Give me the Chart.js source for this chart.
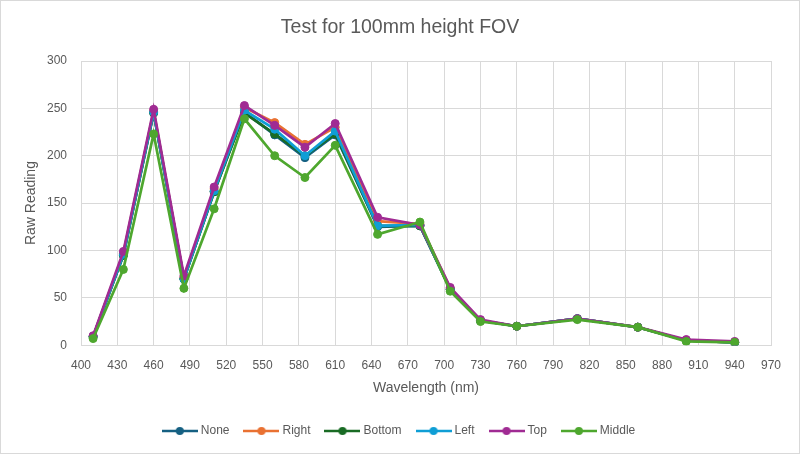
<!DOCTYPE html>
<html>
<head>
<meta charset="utf-8">
<script src="https://cdn.jsdelivr.net/npm/chart.js@4/dist/chart.umd.min.js"></script>
<style>
html,body{margin:0;padding:0;background:#fff;}
canvas{display:block;}
</style>
</head>
<body>
<canvas id="c" width="800" height="454"></canvas>
<script>
const wavelengths = [410, 435, 460, 485, 510, 535, 560, 585, 610, 645, 680, 705, 730, 760, 810, 860, 900, 940];
const seriesNames = ["None", "Right", "Bottom", "Left", "Top", "Middle"];
const noneVals   = [9, 95, 246, 70, 162, 246, 222, 198, 222, 125, 126, 59, 26, 20, 28, 19, 5, 3];
const rightVals  = [9, 97, 247, 71, 165, 251, 235, 212, 230, 131, 128, 60, 26, 20, 28, 19, 5, 3];
const bottomVals = [9, 95, 245, 70, 162, 245, 223, 200, 223, 126, 126, 59, 26, 20, 28, 19, 5, 3];
const leftVals   = [9, 96, 246, 70, 163, 248, 228, 200, 226, 126, 127, 59, 26, 20, 28, 19, 5, 3];
const topVals    = [10, 99, 249, 73, 167, 253, 232, 209, 234, 135, 127, 61, 27, 20, 28, 19, 6, 4];
const middleVals = [7, 80, 223, 60, 144, 239, 200, 177, 211, 117, 130, 57, 25, 20, 27, 19, 4, 3];
const xTickStep = 30, xMin = 400, xMax = 970;
const yTickStep = 50, yMin = 0, yMax = 300;

const allVals = [noneVals, rightVals, bottomVals, leftVals, topVals, middleVals];
const colors = ["#156082", "#E97132", "#196B24", "#0F9ED5", "#A02B93", "#4EA72E"];

function makeIcon(color) {
  const cv = document.createElement('canvas');
  cv.width = 36; cv.height = 10;
  const g = cv.getContext('2d');
  g.strokeStyle = color; g.lineWidth = 2.5;
  g.beginPath(); g.moveTo(0, 5); g.lineTo(36, 5); g.stroke();
  g.fillStyle = color;
  g.beginPath(); g.arc(18, 5, 4, 0, Math.PI * 2); g.fill();
  return cv;
}
const icons = colors.map(makeIcon);

const datasets = seriesNames.map((name, i) => ({
  label: name,
  data: wavelengths.map((w, j) => ({x: w, y: allVals[i][j]})),
  borderColor: colors[i],
  backgroundColor: colors[i],
  borderWidth: 2.7,
  pointRadius: 4,
  pointBorderWidth: 1,
  pointBackgroundColor: colors[i],
  pointBorderColor: colors[i],
  tension: 0,
  xAxisID: 'x',
  yAxisID: 'y',
  order: seriesNames.length - 1 - i
}));

const frame = {
  id: 'frame',
  beforeDraw(chart) {
    const c = chart.ctx;
    c.save();
    c.fillStyle = '#fff';
    c.fillRect(0, 0, chart.width, chart.height);
    c.strokeStyle = '#d9d9d9';
    c.lineWidth = 1;
    c.strokeRect(0.5, 0.5, chart.width - 1, chart.height - 1);
    c.restore();
  }
};

const FONT = "'Liberation Sans', Arial, sans-serif";

new Chart(document.getElementById('c'), {
  type: 'line',
  data: { datasets },
  plugins: [frame],
  options: {
    responsive: false,
    animation: false,
    layout: { padding: { left: 0, right: 0, top: 0, bottom: 7 } },
    plugins: {
      tooltip: { enabled: false },
      title: {
        display: true,
        text: 'Test for 100mm height FOV',
        color: '#595959',
        font: { family: FONT, size: 19.5, weight: 'normal' },
        padding: { top: 16, bottom: 21.6 }
      },
      legend: {
        position: 'bottom',
        labels: {
          usePointStyle: true,
          pointStyleWidth: 30,
          padding: 17,
          color: '#595959',
          font: { family: FONT, size: 12 },
          sort: (a, b) => a.datasetIndex - b.datasetIndex,
          generateLabels(chart) {
            const items = Chart.defaults.plugins.legend.labels.generateLabels(chart);
            items.forEach(it => { it.pointStyle = icons[it.datasetIndex]; });
            return items;
          }
        }
      }
    },
    scales: {
      x: {
        type: 'linear',
        min: xMin, max: xMax,
        afterFit(s) { s.height = 62.8; },
        ticks: { stepSize: xTickStep, color: '#595959', padding: 13, font: { family: FONT, size: 12 }, maxRotation: 0 },
        grid: { color: '#d9d9d9', drawTicks: false, lineWidth: 1 },
        border: { color: '#d9d9d9' },
        title: { display: true, text: 'Wavelength (nm)', color: '#595959', font: { family: FONT, size: 14 }, padding: { top: 0, bottom: 11.4 } }
      },
      y: {
        min: yMin, max: yMax,
        afterFit(s) { s.width = 81; },
        ticks: { stepSize: yTickStep, color: '#595959', padding: 14, font: { family: FONT, size: 12 } },
        grid: { color: '#d9d9d9', drawTicks: false, lineWidth: 1 },
        border: { display: false },
        title: { display: true, text: 'Raw Reading', color: '#595959', font: { family: FONT, size: 14 }, padding: { top: 22.6, bottom: 0 } }
      },
      yRightSpace: {
        type: 'linear',
        position: 'right',
        min: 0, max: 1,
        afterFit(s) { s.width = 29; },
        ticks: { display: false },
        grid: { display: false, drawTicks: false },
        border: { display: false }
      }
    }
  }
});
</script>
</body>
</html>
